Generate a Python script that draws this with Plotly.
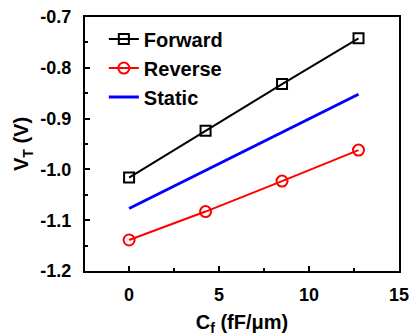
import plotly.graph_objects as go

cf = [0, 4.25, 8.5, 12.75]
forward = [-1.016, -0.924, -0.832, -0.742]
reverse = [-1.139, -1.083, -1.023, -0.962]
static_x = [0, 12.75]
static = [-1.077, -0.852]
x_ticks = [0, 5, 10, 15]
y_ticks = [-1.2, -1.1, -1.0, -0.9, -0.8, -0.7]

FONT = "Arial, Liberation Sans, sans-serif"

def f(size):
    return dict(family=FONT, size=size, color="black", weight="bold")

fig = go.Figure()
fig.add_trace(go.Scatter(x=cf, y=forward, name="Forward", mode="lines+markers",
                         line=dict(color="black", width=2),
                         marker=dict(symbol="square-open", size=10, color="black", line=dict(width=2))))
fig.add_trace(go.Scatter(x=cf, y=reverse, name="Reverse", mode="lines+markers",
                         line=dict(color="red", width=2),
                         marker=dict(symbol="circle-open", size=11, color="red", line=dict(width=2))))
fig.add_trace(go.Scatter(x=static_x, y=static, name="Static", mode="lines",
                         line=dict(color="blue", width=3)))

axis_common = dict(showline=True, linecolor="black", linewidth=2, mirror=True,
                   ticks="inside", tickcolor="black", tickwidth=2, ticklen=5,
                   showgrid=False, zeroline=False, tickfont=f(18), automargin=False)

fig.update_xaxes(range=[-2.45, 15.0], tickvals=x_ticks, ticktext=[str(v) for v in x_ticks],
                 minor=dict(ticks="inside", tickcolor="black", tickwidth=2, ticklen=3, dtick=2.5, tick0=0),
                 title=dict(text="C<sub>f</sub> (fF/μm)", font=f(20), standoff=20),
                 ticklabelstandoff=6,
                 **axis_common)
fig.update_yaxes(range=[-1.2, -0.7], tickvals=y_ticks, ticktext=["%.1f" % v for v in y_ticks],
                 minor=dict(ticks="inside", tickcolor="black", tickwidth=2, ticklen=3, dtick=0.05, tick0=-1.2),
                 title=dict(text="V<sub>T</sub> (V)", font=f(20), standoff=6),
                 ticklabelstandoff=8,
                 **axis_common)

fig.update_layout(width=414, height=336, margin=dict(l=85, r=15, t=17, b=65),
                  paper_bgcolor="white", plot_bgcolor="white",
                  legend=dict(x=0.06, y=0.99, xanchor="left", yanchor="top",
                              bgcolor="rgba(0,0,0,0)", tracegroupgap=0,
                              font=f(20)),
                  font=dict(family=FONT))

fig.write_html("out.html")
